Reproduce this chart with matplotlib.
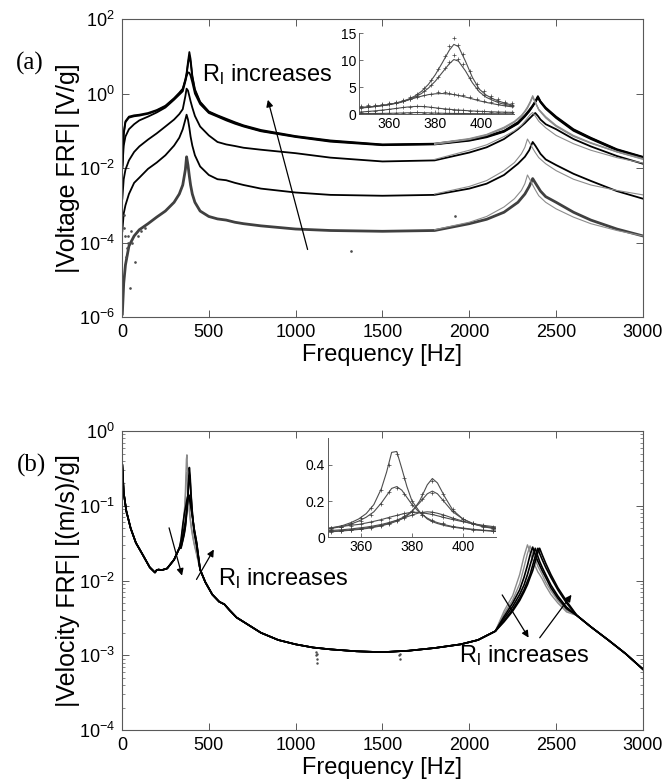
import matplotlib
matplotlib.use('Agg')
import matplotlib.pyplot as plt
from matplotlib.ticker import FixedLocator, NullLocator, LogLocator

plt.rcParams['font.family'] = ['Liberation Sans', 'DejaVu Sans']
plt.rcParams['mathtext.default'] = 'regular'
plt.rcParams['axes.unicode_minus'] = False

# ---------------- (a) voltage FRF, one curve per load resistance ----------------
freq_a = [2, 10, 20, 40, 70, 100, 150, 200, 250, 300, 330, 350, 365, 372, 380, 388, 395, 405,
          420, 450, 500, 550, 600, 650, 700, 800, 1000, 1200, 1500,
          1800, 2000, 2100, 2200, 2280, 2320, 2345, 2365, 2380, 2395, 2410, 2440, 2500, 2600,
          2700, 2850, 3000]
volt_r5 = [0.012, 0.09, 0.18, 0.24, 0.26, 0.27, 0.30, 0.36, 0.47, 0.75, 1.05, 1.35, 2.4, 3.5, 7.0,
           13.0, 8.5, 3.0, 1.3, 0.6, 0.33, 0.26, 0.21, 0.17, 0.14, 0.105, 0.072, 0.055, 0.043,
           0.045, 0.058, 0.072, 0.1, 0.17, 0.26, 0.36, 0.48, 0.62, 0.85, 0.62, 0.42, 0.24, 0.11,
           0.065, 0.032, 0.02]
volt_r4 = [0.01, 0.08, 0.17, 0.225, 0.245, 0.255, 0.285, 0.345, 0.45, 0.72, 1.0, 1.3, 2.3, 3.2, 6.0,
           10.2, 7.0, 2.8, 1.2, 0.57, 0.32, 0.25, 0.2, 0.163, 0.135, 0.1, 0.07, 0.053, 0.042,
           0.044, 0.056, 0.07, 0.097, 0.16, 0.25, 0.34, 0.46, 0.6, 0.8, 0.6, 0.4, 0.23, 0.105,
           0.063, 0.031, 0.0195]
volt_r3 = [0.01, 0.04, 0.07, 0.11, 0.15, 0.19, 0.24, 0.31, 0.42, 0.68, 0.93, 1.15, 2.1, 2.9, 3.7,
           3.6, 3.0, 2.0, 1.0, 0.52, 0.3, 0.24, 0.19, 0.155, 0.13, 0.097, 0.068, 0.051, 0.041,
           0.043, 0.054, 0.067, 0.094, 0.155, 0.24, 0.33, 0.45, 0.58, 0.77, 0.58, 0.39, 0.22, 0.1,
           0.06, 0.03, 0.019]
volt_r2 = [0.0015, 0.005, 0.009, 0.016, 0.027, 0.038, 0.058, 0.085, 0.13, 0.2, 0.28, 0.38, 0.85,
           1.35, 1.2, 0.85, 0.62, 0.42, 0.25, 0.13, 0.075, 0.05, 0.043, 0.039, 0.035, 0.031, 0.025,
           0.019, 0.015,
           0.016, 0.026, 0.036, 0.06, 0.11, 0.16, 0.21, 0.26, 0.3, 0.25, 0.2, 0.15, 0.11, 0.06,
           0.038, 0.021, 0.013]
volt_r1 = [2e-4, 6e-4, 1e-3, 2e-3, 4e-3, 5.5e-3, 9.5e-3, 0.014, 0.022, 0.04, 0.065, 0.11, 0.2, 0.27,
           0.2, 0.12, 0.07, 0.04, 0.022, 0.011, 6.5e-3, 5e-3, 4.7e-3, 4e-3, 3.5e-3, 2.8e-3, 2.2e-3,
           1.9e-3, 1.8e-3,
           1.9e-3, 2.8e-3, 3.8e-3, 6.5e-3, 0.013, 0.02, 0.03, 0.05, 0.04, 0.031, 0.024, 0.017,
           0.012, 7e-3, 4.5e-3, 2.4e-3, 1.5e-3]
volt_r0 = [1.2e-6, 8e-6, 2.5e-5, 8e-5, 1.5e-4, 2.2e-4, 3.2e-4, 4.8e-4, 7e-4, 1.2e-3, 2e-3, 3.5e-3,
           9e-3, 0.02, 0.012, 6e-3, 3.5e-3, 2e-3, 1.2e-3, 7e-4, 5e-4, 4.3e-4, 4e-4, 3.5e-4, 3.2e-4,
           2.8e-4, 2.3e-4, 2.1e-4, 2e-4,
           2.1e-4, 3.2e-4, 4.2e-4, 6.5e-4, 1.2e-3, 2e-3, 3.2e-3, 5.2e-3, 4e-3, 3.1e-3, 2.4e-3,
           1.7e-3, 1.2e-3, 6.5e-4, 4e-4, 2.3e-4, 1.5e-4]

# model curves around the 2nd mode
freq_a_mod = [1800, 2000, 2100, 2200, 2260, 2300, 2320, 2335, 2350, 2365, 2380, 2400, 2440, 2500,
              2600, 2700, 2850, 3000]
mod_r5 = [0.046, 0.062, 0.08, 0.125, 0.18, 0.26, 0.34, 0.44, 0.6, 0.88, 0.6, 0.38, 0.24, 0.14,
          0.075, 0.048, 0.028, 0.018]
mod_r4 = [0.045, 0.06, 0.078, 0.12, 0.175, 0.25, 0.33, 0.42, 0.57, 0.83, 0.58, 0.37, 0.23, 0.135,
          0.072, 0.047, 0.027, 0.0175]
mod_r3 = [0.043, 0.058, 0.075, 0.115, 0.17, 0.24, 0.32, 0.4, 0.55, 0.8, 0.56, 0.36, 0.22, 0.13,
          0.07, 0.046, 0.027, 0.017]
mod_r2 = [0.017, 0.03, 0.042, 0.07, 0.1, 0.14, 0.18, 0.22, 0.27, 0.31, 0.25, 0.18, 0.12, 0.075,
          0.045, 0.03, 0.019, 0.0135]
mod_r1 = [2.0e-3, 3.2e-3, 4.6e-3, 8.5e-3, 0.014, 0.024, 0.036, 0.06, 0.045, 0.034, 0.026, 0.019,
          0.013, 8.5e-3, 5e-3, 3.5e-3, 2.5e-3, 1.9e-3]
mod_r0 = [2.2e-4, 3.5e-4, 5e-4, 9e-4, 1.5e-3, 2.5e-3, 3.8e-3, 6.5e-3, 4.8e-3, 3.5e-3, 2.6e-3,
          1.8e-3, 1.2e-3, 8e-4, 4.8e-4, 3.2e-4, 2.1e-4, 1.5e-4]

# stray measurement points of the lowest curve
stray_a_f = [12, 13, 18, 22, 27, 33, 37, 46, 52, 60, 75, 90, 110, 130, 1320, 1920]
stray_a_v = [5.5e-4, 2.4e-4, 1.5e-4, 4e-5, 7e-5, 1e-4, 1.5e-4, 6e-6, 2e-4, 1e-4, 3e-5, 1.5e-4,
             2e-4, 2.5e-4, 6e-5, 5e-4]

# inset (a), linear scale around the 1st mode
ins_a_f = [347, 350, 353, 356, 359, 362, 365, 368, 371, 374, 377, 380, 383, 386, 388, 390, 393,
           396, 399, 402, 405, 408, 411, 414]
ins_a_r5 = [1.2, 1.3, 1.4, 1.55, 1.7, 1.95, 2.25, 2.7, 3.3, 4.2, 5.5, 7.3, 9.5, 11.8, 12.9, 12.5,
            9.8, 6.8, 4.6, 3.5, 2.8, 2.3, 1.9, 1.6]
ins_a_r4 = [1.15, 1.25, 1.35, 1.5, 1.65, 1.9, 2.15, 2.55, 3.1, 3.8, 4.8, 6.1, 7.7, 9.3, 10.1, 9.8,
            8.0, 5.8, 4.1, 3.1, 2.5, 2.0, 1.7, 1.45]
ins_a_r3 = [1.1, 1.2, 1.35, 1.5, 1.7, 1.95, 2.25, 2.6, 2.95, 3.3, 3.6, 3.75, 3.8, 3.7, 3.6, 3.45,
            3.15, 2.8, 2.45, 2.15, 1.9, 1.65, 1.45, 1.3]
ins_a_r2 = [0.35, 0.45, 0.55, 0.68, 0.82, 0.98, 1.15, 1.3, 1.4, 1.4, 1.3, 1.15, 1.0, 0.88, 0.8,
            0.73, 0.65, 0.57, 0.5, 0.45, 0.4, 0.36, 0.33, 0.3]
ins_a_r1 = [0.08, 0.09, 0.1, 0.11, 0.13, 0.15, 0.19, 0.23, 0.27, 0.26, 0.22, 0.18, 0.15, 0.12,
            0.11, 0.1, 0.09, 0.08, 0.07, 0.065, 0.06, 0.055, 0.05, 0.045]
ins_a_fm = [348, 351, 354, 357, 360, 363, 366, 369, 372, 375, 378, 381, 384, 386, 388, 390, 392,
            395, 398, 401, 404, 407, 410, 413]
ins_a_e5 = [1.5, 1.6, 1.7, 1.85, 2.0, 2.3, 2.6, 3.1, 3.8, 4.9, 6.3, 8.3, 10.8, 12.6, 14.0, 12.8,
            11.2, 8.0, 5.6, 4.2, 3.3, 2.7, 2.3, 2.0]
ins_a_e4 = [1.3, 1.4, 1.5, 1.65, 1.8, 2.05, 2.35, 2.8, 3.4, 4.2, 5.3, 6.8, 8.5, 9.6, 11.0, 10.2,
            9.2, 6.7, 4.8, 3.6, 2.9, 2.4, 2.0, 1.7]
ins_a_e3 = [1.2, 1.3, 1.45, 1.6, 1.8, 2.05, 2.35, 2.7, 3.1, 3.5, 3.8, 4.0, 4.0, 3.9, 3.8, 3.6,
            3.45, 3.15, 2.8, 2.45, 2.15, 1.9, 1.65, 1.45]
ins_a_e2 = [0.4, 0.5, 0.62, 0.75, 0.9, 1.05, 1.22, 1.35, 1.45, 1.45, 1.3, 1.12, 0.98, 0.9, 0.82,
            0.76, 0.7, 0.62, 0.55, 0.49, 0.44, 0.4, 0.36, 0.33]
ins_a_e1 = [0.1, 0.11, 0.12, 0.13, 0.15, 0.17, 0.21, 0.25, 0.29, 0.27, 0.23, 0.19, 0.16, 0.14,
            0.12, 0.11, 0.1, 0.09, 0.08, 0.075, 0.07, 0.065, 0.06, 0.055]

# ---------------- (b) velocity FRF ----------------
vel_f_low = [2, 10, 25, 50, 80, 120, 160, 190, 200, 210, 230, 260, 300, 330]
vel_low = [0.35, 0.15, 0.085, 0.05, 0.032, 0.022, 0.015, 0.0128, 0.0138, 0.014, 0.0138, 0.0145,
           0.019, 0.027]
vel_f_pk1 = [340, 350, 358, 364, 368, 371, 374, 377, 380, 384, 388, 392, 398, 406, 415, 430]
vel_pk1 = [
    [0.033, 0.05, 0.075, 0.13, 0.25, 0.42, 0.48, 0.33, 0.2, 0.12, 0.085, 0.068, 0.052, 0.04, 0.031, 0.022],
    [0.033, 0.05, 0.072, 0.11, 0.17, 0.25, 0.28, 0.24, 0.18, 0.12, 0.09, 0.073, 0.056, 0.042, 0.032, 0.023],
    [0.035, 0.055, 0.075, 0.09, 0.1, 0.11, 0.12, 0.13, 0.137, 0.135, 0.125, 0.112, 0.092, 0.07, 0.05, 0.032],
    [0.03, 0.04, 0.05, 0.06, 0.068, 0.08, 0.092, 0.108, 0.122, 0.137, 0.138, 0.125, 0.097, 0.072, 0.05, 0.032],
    [0.028, 0.035, 0.043, 0.052, 0.063, 0.076, 0.093, 0.115, 0.145, 0.2, 0.255, 0.22, 0.13, 0.075, 0.047, 0.03],
    [0.027, 0.034, 0.041, 0.05, 0.06, 0.072, 0.088, 0.11, 0.14, 0.22, 0.325, 0.26, 0.14, 0.075, 0.045, 0.029],
]
vel_f_mid = [450, 480, 520, 560, 590, 620, 660, 700, 800, 900, 1000, 1100, 1200, 1350, 1500, 1650,
             1800, 1950, 2050, 2150]
vel_mid = [0.014, 0.0095, 6.5e-3, 5.2e-3, 4.8e-3, 4.0e-3, 3.2e-3, 2.8e-3, 2.0e-3, 1.6e-3, 1.4e-3,
           1.27e-3, 1.2e-3, 1.13e-3, 1.1e-3, 1.15e-3, 1.25e-3, 1.4e-3, 1.6e-3, 2.1e-3]
vel_f_pk2 = [2200, 2250, 2290, 2315, 2335, 2350, 2365, 2380, 2395, 2405, 2420, 2440, 2470, 2510, 2560]
vel_pk2 = [
    [3.9e-3, 6.3e-3, 0.012, 0.021, 0.030, 0.024, 0.019, 0.0155, 0.013, 0.012, 0.0105, 8.5e-3, 6.5e-3, 5e-3, 3.8e-3],
    [3.6e-3, 5.5e-3, 9e-3, 0.015, 0.023, 0.029, 0.023, 0.019, 0.0155, 0.014, 0.012, 9.5e-3, 7.3e-3, 5.4e-3, 4e-3],
    [3.3e-3, 5e-3, 7.5e-3, 0.011, 0.016, 0.022, 0.028, 0.022, 0.018, 0.016, 0.0135, 0.011, 8e-3, 5.8e-3, 4.2e-3],
    [3.1e-3, 4.5e-3, 6.5e-3, 8.7e-3, 0.012, 0.016, 0.021, 0.027, 0.021, 0.018, 0.015, 0.012, 8.7e-3, 6.2e-3, 4.4e-3],
    [2.9e-3, 4.1e-3, 5.8e-3, 7.5e-3, 9.8e-3, 0.012, 0.016, 0.021, 0.027, 0.023, 0.019, 0.015, 0.011, 7.5e-3, 5e-3],
    [2.8e-3, 3.9e-3, 5.4e-3, 7e-3, 8.8e-3, 0.011, 0.0135, 0.018, 0.024, 0.027, 0.022, 0.017, 0.012, 8e-3, 5.3e-3],
]
vel_f_high = [2620, 2700, 2800, 2900, 3000]
vel_high = [3.4e-3, 2.4e-3, 1.6e-3, 1.05e-3, 6.5e-4]

stray_b_f = [1118, 1120, 1121, 1123, 1125, 1598, 1600, 1602]
stray_b_v = [1.1e-3, 1.0e-3, 9e-4, 8e-4, 1.05e-3, 1.0e-3, 9e-4, 1.05e-3]

# inset (b)
ins_b_f = [347, 350, 353, 356, 359, 362, 365, 368, 370, 372, 374, 376, 378, 380, 383, 386, 388,
           390, 393, 396, 400, 404, 408, 413]
ins_b = [
    [0.045, 0.055, 0.065, 0.08, 0.1, 0.13, 0.18, 0.27, 0.36, 0.47, 0.475, 0.38, 0.28, 0.2, 0.14, 0.1, 0.085, 0.075, 0.063, 0.055, 0.047, 0.04, 0.036, 0.031],
    [0.045, 0.052, 0.06, 0.072, 0.088, 0.11, 0.14, 0.19, 0.23, 0.27, 0.28, 0.26, 0.22, 0.18, 0.135, 0.105, 0.09, 0.08, 0.068, 0.058, 0.05, 0.043, 0.038, 0.033],
    [0.05, 0.055, 0.06, 0.065, 0.07, 0.078, 0.087, 0.097, 0.105, 0.113, 0.12, 0.127, 0.133, 0.137, 0.137, 0.13, 0.125, 0.118, 0.107, 0.097, 0.085, 0.074, 0.065, 0.056],
    [0.035, 0.038, 0.041, 0.045, 0.05, 0.055, 0.062, 0.07, 0.077, 0.085, 0.093, 0.102, 0.112, 0.122, 0.135, 0.14, 0.138, 0.132, 0.12, 0.105, 0.088, 0.072, 0.06, 0.05],
    [0.03, 0.033, 0.036, 0.04, 0.045, 0.05, 0.057, 0.066, 0.073, 0.082, 0.093, 0.106, 0.123, 0.145, 0.19, 0.24, 0.255, 0.24, 0.19, 0.14, 0.1, 0.075, 0.06, 0.047],
    [0.028, 0.031, 0.034, 0.038, 0.042, 0.047, 0.054, 0.062, 0.07, 0.078, 0.088, 0.1, 0.118, 0.14, 0.2, 0.29, 0.325, 0.3, 0.22, 0.15, 0.1, 0.073, 0.057, 0.045],
]
ins_b_fm = [348, 352, 356, 360, 364, 368, 371, 374, 377, 380, 384, 388, 392, 396, 400, 404, 408, 412]
ins_b_exp = [
    [0.047, 0.058, 0.078, 0.105, 0.16, 0.26, 0.4, 0.46, 0.33, 0.2, 0.125, 0.088, 0.07, 0.057, 0.048, 0.041, 0.037, 0.033],
    [0.048, 0.057, 0.07, 0.09, 0.125, 0.185, 0.25, 0.275, 0.24, 0.18, 0.125, 0.094, 0.077, 0.062, 0.052, 0.045, 0.04, 0.035],
    [0.052, 0.058, 0.064, 0.072, 0.083, 0.096, 0.108, 0.12, 0.131, 0.138, 0.135, 0.126, 0.112, 0.099, 0.087, 0.076, 0.066, 0.058],
    [0.037, 0.04, 0.044, 0.05, 0.058, 0.068, 0.08, 0.093, 0.108, 0.123, 0.138, 0.14, 0.125, 0.107, 0.09, 0.074, 0.062, 0.052],
    [0.031, 0.035, 0.04, 0.046, 0.054, 0.065, 0.076, 0.093, 0.115, 0.145, 0.21, 0.245, 0.205, 0.145, 0.102, 0.077, 0.061, 0.049],
    [0.029, 0.033, 0.038, 0.043, 0.051, 0.061, 0.072, 0.087, 0.11, 0.14, 0.24, 0.31, 0.24, 0.155, 0.102, 0.074, 0.058, 0.047],
]

AX_COL = '0.35'
EXP_COL = 'black'
MOD_COL = '0.55'


def style_main(ax):
    for s in ax.spines.values():
        s.set_color(AX_COL)
        s.set_linewidth(0.8)
    ax.tick_params(which='both', direction='in', top=True, right=True, color=AX_COL,
                   labelsize=13, pad=5)
    ax.tick_params(which='major', length=5, width=0.7)
    ax.tick_params(which='minor', length=2.5, width=0.5)
    ax.set_xlim(0, 3000)
    ax.set_xticks([0, 500, 1000, 1500, 2000, 2500, 3000])
    ax.set_xlabel('Frequency [Hz]', fontsize=17, labelpad=2)


def style_inset(ax):
    for s in ['top', 'right']:
        ax.spines[s].set_visible(False)
    for s in ['left', 'bottom']:
        ax.spines[s].set_color(AX_COL)
        ax.spines[s].set_linewidth(0.7)
    ax.tick_params(direction='in', length=3, width=0.6, color=AX_COL, labelsize=10, pad=2)
    ax.set_xlim(347, 414)
    ax.set_xticks([360, 380, 400])
    ax.patch.set_alpha(0)


fig = plt.figure(figsize=(6.64, 7.8), dpi=100)

# ---------- (a) ----------
ax1 = fig.add_axes([0.1837, 0.5936, 0.7846, 0.382])
for v in [volt_r5, volt_r4, volt_r3, volt_r2, volt_r1]:
    ax1.plot(freq_a, v, color=EXP_COL, lw=1.3)
ax1.plot(freq_a, volt_r0, color='0.25', lw=2.0)
ax1.plot(stray_a_f, stray_a_v, ls='none', marker='.', ms=1.8, color='0.3')
for m in [mod_r5, mod_r4, mod_r3, mod_r2, mod_r1, mod_r0]:
    ax1.plot(freq_a_mod, m, color=MOD_COL, lw=0.8)
ax1.set_yscale('log')
ax1.set_ylim(1e-6, 1e2)
ax1.yaxis.set_major_locator(FixedLocator([1e-6, 1e-4, 1e-2, 1e0, 1e2]))
ax1.yaxis.set_minor_locator(NullLocator())
style_main(ax1)
ax1.set_ylabel('|Voltage FRF| [V/g]', fontsize=18)
ax1.yaxis.set_label_coords(-0.08, 0.5)
ax1.annotate('', xy=(836, 0.8), xytext=(1073, 5.5e-5),
             arrowprops=dict(arrowstyle='-|>', color='black', lw=0.9, mutation_scale=10))
ax1.text(462, 3.2, 'R$_l$ increases', fontsize=17, va='center', ha='left')

ins1 = fig.add_axes([0.5407, 0.8538, 0.2334, 0.1038])
for v in [ins_a_r5, ins_a_r4, ins_a_r3, ins_a_r2, ins_a_r1]:
    ins1.plot(ins_a_f, v, color='0.3', lw=0.8)
for e in [ins_a_e5, ins_a_e4, ins_a_e3, ins_a_e2, ins_a_e1]:
    ins1.plot(ins_a_fm, e, ls='none', marker='+', ms=2.5, mew=0.5, color='0.25')
style_inset(ins1)
ins1.set_ylim(0, 15)
ins1.set_yticks([0, 5, 10, 15])

fig.text(0.045, 0.919, '(a)', fontsize=18, family='Liberation Serif', va='center', ha='center')

# ---------- (b) ----------
ax2 = fig.add_axes([0.1837, 0.0641, 0.7846, 0.3833])
for k in range(6):
    f = vel_f_low + vel_f_pk1 + vel_f_mid + vel_f_pk2 + vel_f_high
    v = vel_low + vel_pk1[k] + vel_mid + vel_pk2[k] + vel_high
    col = MOD_COL if k < 2 else EXP_COL
    ax2.plot(f, v, color=col, lw=1.0 if k < 2 else 1.2)
ax2.plot(stray_b_f, stray_b_v, ls='none', marker='.', ms=1.5, color='0.3')
ax2.set_yscale('log')
ax2.set_ylim(1e-4, 1e0)
ax2.yaxis.set_major_locator(LogLocator(base=10, numticks=10))
ax2.yaxis.set_minor_locator(LogLocator(base=10, subs=range(2, 10), numticks=20))
ax2.yaxis.set_minor_formatter(plt.NullFormatter())
style_main(ax2)
ax2.set_ylabel('|Velocity FRF| [(m/s)/g]', fontsize=18)
ax2.yaxis.set_label_coords(-0.08, 0.5)
ax2.annotate('', xy=(350, 0.0107), xytext=(267, 0.055),
             arrowprops=dict(arrowstyle='-|>', color='black', lw=0.9, mutation_scale=10))
ax2.annotate('', xy=(537, 0.028), xytext=(421, 9.6e-3),
             arrowprops=dict(arrowstyle='-|>', color='black', lw=0.9, mutation_scale=10))
ax2.text(555, 0.0105, 'R$_l$ increases', fontsize=17, va='center', ha='left')
ax2.annotate('', xy=(2350, 1.6e-3), xytext=(2181, 6.9e-3),
             arrowprops=dict(arrowstyle='-|>', color='black', lw=0.9, mutation_scale=10))
ax2.annotate('', xy=(2598, 6.9e-3), xytext=(2396, 1.6e-3),
             arrowprops=dict(arrowstyle='-|>', color='black', lw=0.9, mutation_scale=10))
ax2.text(1938, 1.0e-3, 'R$_l$ increases', fontsize=17, va='center', ha='left')

ins2 = fig.add_axes([0.494, 0.3115, 0.253, 0.127])
for v in ins_b:
    ins2.plot(ins_b_f, v, color='0.3', lw=0.8)
for e in ins_b_exp:
    ins2.plot(ins_b_fm, e, ls='none', marker='+', ms=2.5, mew=0.5, color='0.25')
style_inset(ins2)
ins2.set_xlim(347, 413)
ins2.set_ylim(0, 0.55)
ins2.set_yticks([0, 0.2, 0.4])
ins2.set_yticklabels(['0', '0.2', '0.4'])

fig.text(0.047, 0.403, '(b)', fontsize=18, family='Liberation Serif', va='center', ha='center')

fig.savefig('out.png', dpi=100, facecolor='white')
